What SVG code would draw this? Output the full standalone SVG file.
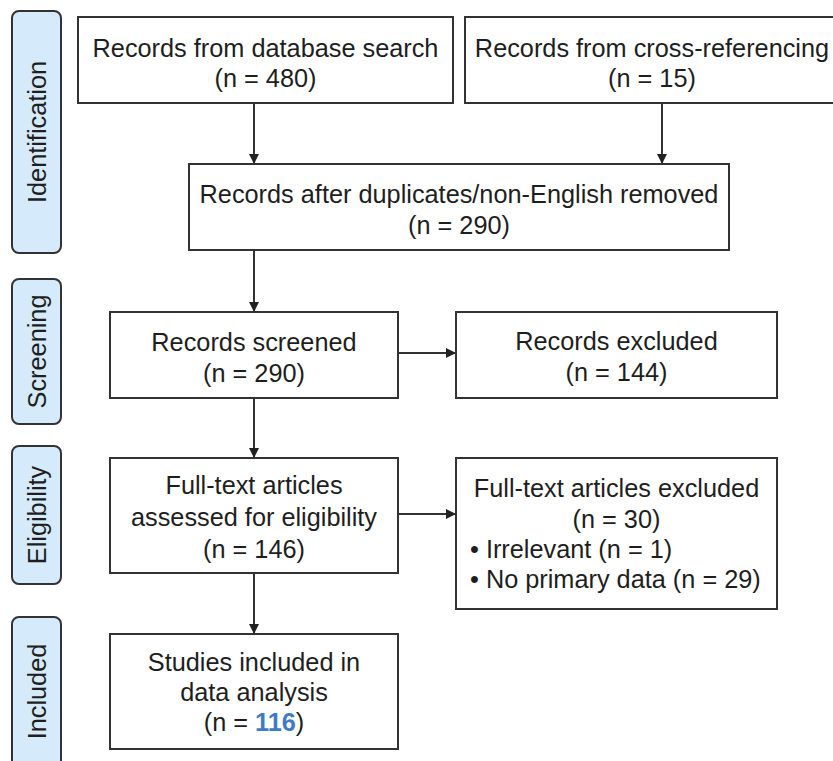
<svg xmlns="http://www.w3.org/2000/svg" width="833" height="761" viewBox="0 0 833 761">
<style>
.box{fill:#fff;stroke:#333;stroke-width:2}
.lab{fill:#d5eafb;stroke:#333;stroke-width:2}
text{font-family:"Liberation Sans",Arial,sans-serif;font-size:25.3px;fill:#1e1e1e}
.c{text-anchor:middle}
.edge{stroke:#333;stroke-width:2;fill:none;marker-end:url(#ah)}
</style>
<defs>
<marker id="ah" viewBox="0 0 10 10" refX="10" refY="5" markerWidth="5" markerHeight="5" orient="auto" markerUnits="strokeWidth">
<path d="M0,0 L10,5 L0,10 z" fill="#222"/>
</marker>
</defs>
<rect width="833" height="761" fill="#fff"/>
<g id="stages">
<g id="stage-identification"><rect class="lab" x="12" y="11" width="49" height="242" rx="7"/><text class="c" transform="translate(46,132) rotate(-90)">Identification</text></g>
<g id="stage-screening"><rect class="lab" x="12" y="279" width="49" height="145" rx="7"/><text class="c" transform="translate(46,351.5) rotate(-90)">Screening</text></g>
<g id="stage-eligibility"><rect class="lab" x="12" y="446" width="49" height="138" rx="7"/><text class="c" transform="translate(46,515) rotate(-90)">Eligibility</text></g>
<g id="stage-included"><rect class="lab" x="12" y="617" width="49" height="152" rx="7"/><text class="c" transform="translate(46,691.5) rotate(-90)">Included</text></g>
</g>
<g id="connectors">
<path class="edge" d="M254,103 V164"/>
<path class="edge" d="M662,103 V164"/>
<path class="edge" d="M254,250 V312"/>
<path class="edge" d="M398,353 H456"/>
<path class="edge" d="M254,398 V458"/>
<path class="edge" d="M398,514 H456"/>
<path class="edge" d="M254,573 V634"/>
</g>
<g id="n-database"><rect class="box" x="78" y="17" width="375" height="86"/><text class="c" x="265.5" y="57">Records from database search</text><text class="c" x="265.5" y="87">(n = 480)</text></g>
<g id="n-crossref"><rect class="box" x="465" y="17" width="375" height="86"/><text class="c" x="652" y="57">Records from cross-referencing</text><text class="c" x="652" y="87">(n = 15)</text></g>
<g id="n-dedup"><rect class="box" x="189" y="164" width="540" height="86"/><text class="c" x="459" y="203">Records after duplicates/non-English removed</text><text class="c" x="459" y="234">(n = 290)</text></g>
<g id="n-screened"><rect class="box" x="110" y="312" width="288" height="86"/><text class="c" x="254" y="351">Records screened</text><text class="c" x="254" y="382">(n = 290)</text></g>
<g id="n-excluded"><rect class="box" x="456" y="312" width="321" height="86"/><text class="c" x="616.5" y="350">Records excluded</text><text class="c" x="616.5" y="381">(n = 144)</text></g>
<g id="n-fulltext"><rect class="box" x="110" y="458" width="288" height="115"/><text class="c" x="254" y="494">Full-text articles</text><text class="c" x="254" y="526">assessed for eligibility</text><text class="c" x="254" y="558">(n = 146)</text></g>
<g id="n-ftexcluded"><rect class="box" x="456" y="458" width="321" height="151"/><text class="c" x="616.5" y="497">Full-text articles excluded</text><text class="c" x="616.5" y="528">(n = 30)</text><text x="470" y="558">• Irrelevant (n = 1)</text><text x="470" y="588">• No primary data (n = 29)</text></g>
<g id="n-included"><rect class="box" x="110" y="634" width="288" height="115"/><text class="c" x="254" y="671">Studies included in</text><text class="c" x="254" y="701">data analysis</text><text class="c" x="254" y="731">(n = <tspan fill="#3f7ac6" font-weight="bold">116</tspan>)</text></g>
</svg>
